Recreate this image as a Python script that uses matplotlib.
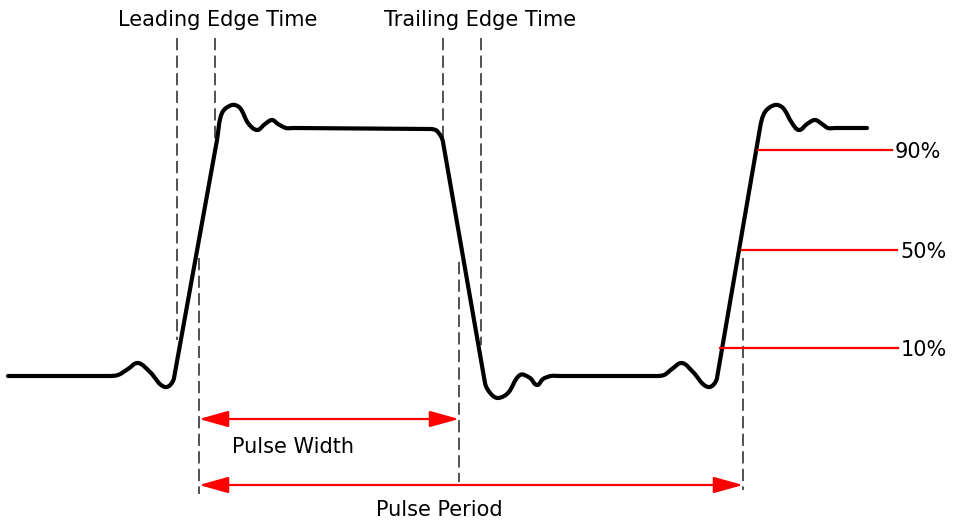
import numpy as np
import matplotlib
matplotlib.use("Agg")
import matplotlib.pyplot as plt
from matplotlib.path import Path
from matplotlib.patches import PathPatch, FancyArrowPatch

# ---- data (pixel coordinates) ----
wave_x = [8, 108, 118, 128, 138, 150, 165, 174, 217, 222,
          232, 240, 248, 257, 265, 272, 278, 286, 294, 430,
          437, 443, 485, 491, 498, 508, 520, 530, 537, 543,
          551, 560, 654, 664, 672, 682, 693, 708, 717, 760,
          765, 775, 783, 792, 799, 807, 815, 822, 828, 836,
          867]
wave_y = [376, 376, 375, 369, 363, 372, 387, 378, 140, 113,
          105, 108, 123, 130, 124, 120, 124, 128, 128, 129,
          131, 142, 383, 394, 398, 393, 375, 378, 385, 379,
          376, 376, 376, 375, 369, 363, 372, 387, 378, 128,
          112, 105, 108, 123, 130, 124, 120, 124, 128, 128,
          128]

dash_x = [177, 215, 199, 443, 481, 459, 743]
dash_top = [38, 38, 258, 38, 38, 262, 258]
dash_bot = [340, 140, 494, 140, 345, 482, 490]

level_labels = ["90%", "50%", "10%"]
level_y = [150, 250, 348]
level_x0 = [758, 742, 720]
level_x1 = [892, 897, 898]

top_labels = ["Leading Edge Time", "Trailing Edge Time"]
top_label_x = [218, 480]

span_labels = ["Pulse Width", "Pulse Period"]
span_x0 = [199, 199]
span_x1 = [459, 743]
span_y = [419, 485]
span_text_x = [293, 439]
span_text_y = [447, 510]

plt.rcParams['font.family'] = ['DejaVu Sans']

fig = plt.figure(figsize=(9.54, 5.22), dpi=100)
ax = fig.add_axes([0, 0, 1, 1])
ax.set_xlim(0, 954)
ax.set_ylim(522, 0)
ax.axis('off')

# waveform: smooth curve through the waypoints (cubic Beziers, no overshoot);
# long segments (edges, flats) are kept straight
P = np.column_stack([wave_x, wave_y]).astype(float)
n = len(P)
tang = []
for i in range(n):
    a = P[max(i - 1, 0)]
    b = P[min(i + 1, n - 1)]
    d = b - a
    tang.append(d / (np.hypot(*d) + 1e-9))
for i in range(n - 1):
    d = P[i + 1] - P[i]
    ln = np.hypot(*d)
    if ln > 80:
        tang[i] = d / ln
        tang[i + 1] = d / ln
verts = [tuple(P[0])]
codes = [Path.MOVETO]
for i in range(n - 1):
    p1, p2 = P[i], P[i + 1]
    L = np.hypot(*(p2 - p1)) / 3.0
    c1 = p1 + tang[i] * L
    c2 = p2 - tang[i + 1] * L
    verts += [tuple(c1), tuple(c2), tuple(p2)]
    codes += [Path.CURVE4] * 3
ax.add_patch(PathPatch(Path(verts, codes), facecolor='none', edgecolor='black',
                       lw=3.0, capstyle='round', joinstyle='round', zorder=3))

# dashed guide lines
for x, t, b in zip(dash_x, dash_top, dash_bot):
    ax.plot([x, x], [t, b], color='#222222', lw=1.1, linestyle=(0, (8, 3.5)), zorder=2)

# level lines
for lab, y, x0, x1 in zip(level_labels, level_y, level_x0, level_x1):
    ax.plot([x0, x1], [y, y], color='#ff0000', lw=1.6, zorder=4)
    ax.text(x1 + 3, y + 2, lab, fontsize=15, va='center', ha='left', color='black')

# top labels
for lab, x in zip(top_labels, top_label_x):
    ax.text(x, 20, lab, fontsize=15, ha='center', va='center', color='black')

# span arrows
for lab, x0, x1, y, tx, ty in zip(span_labels, span_x0, span_x1, span_y, span_text_x, span_text_y):
    arr = FancyArrowPatch((x0, y), (x1, y),
                          arrowstyle='<|-|>,head_length=1.8,head_width=0.5',
                          mutation_scale=10, color='#ff0000', lw=1.6,
                          shrinkA=0, shrinkB=0, zorder=4)
    ax.add_patch(arr)
    ax.text(tx, ty, lab, fontsize=15, ha='center', va='center', color='black')

fig.savefig('out.png', dpi=100)
